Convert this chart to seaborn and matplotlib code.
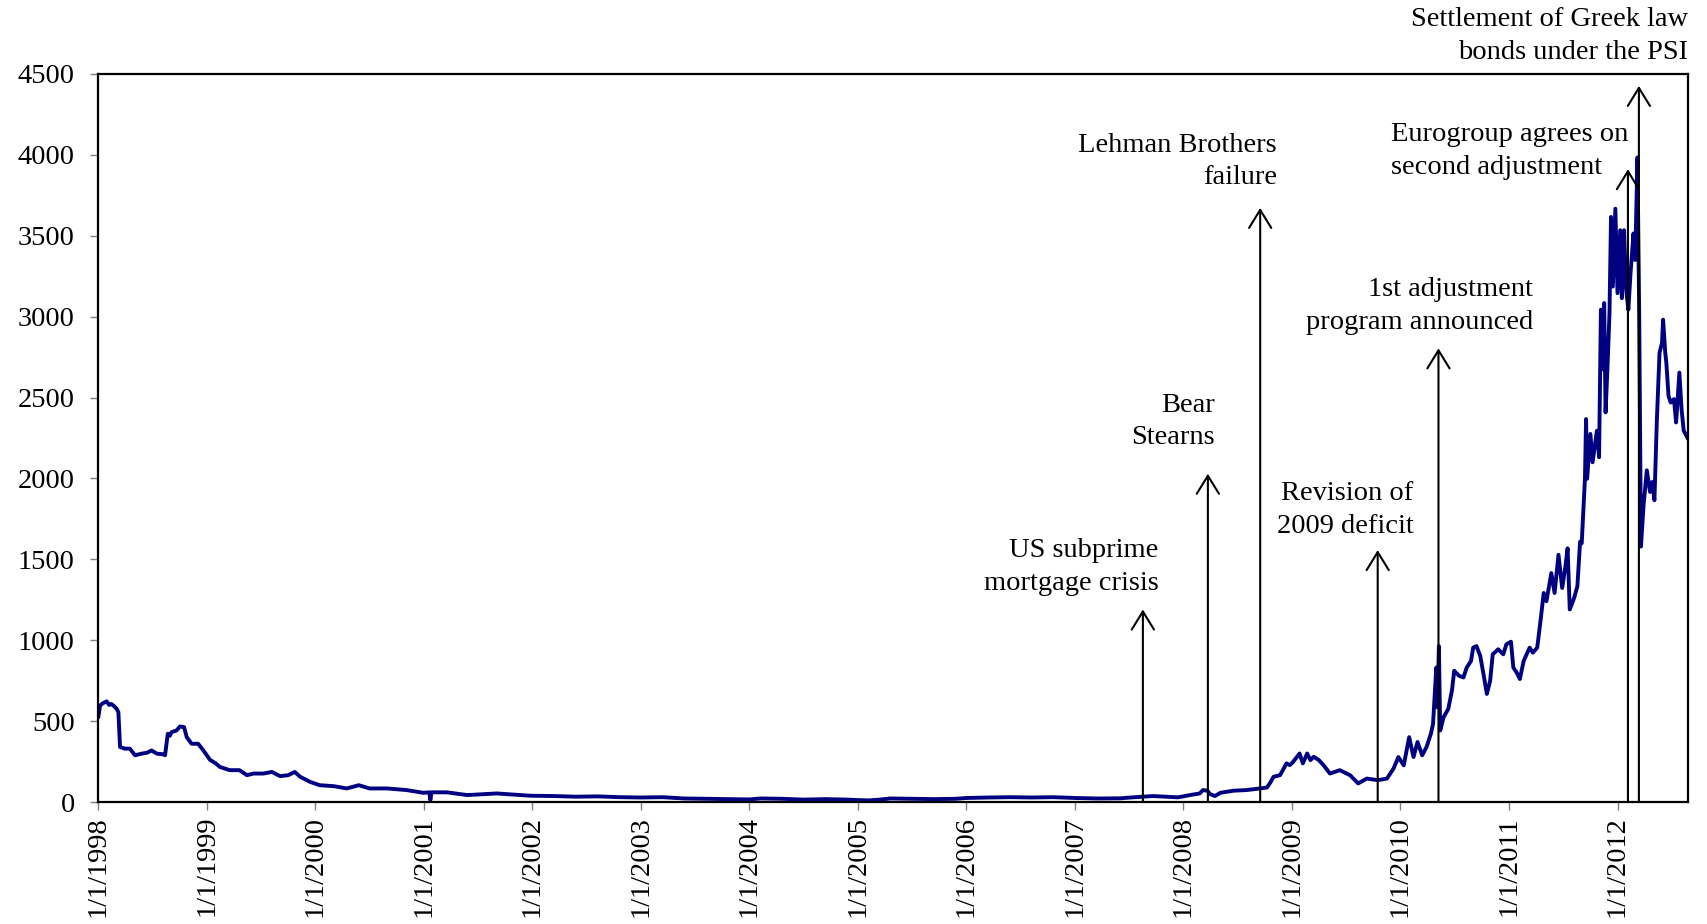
import numpy as np
import pandas as pd
import seaborn as sns
import matplotlib.pyplot as plt

sns.set_theme(style="ticks")
plt.rcParams["font.family"] = ["Liberation Serif", "DejaVu Serif"]

# spread series (x = decimal year, y = basis points)
year_pos = [
    1998.00, 1998.016, 1998.04, 1998.077, 1998.10, 1998.12, 1998.15, 1998.17, 1998.185,
    1998.20, 1998.246, 1998.29, 1998.338, 1998.40, 1998.45, 1998.49, 1998.54, 1998.60,
    1998.615, 1998.64, 1998.66, 1998.675, 1998.72, 1998.753, 1998.79, 1998.815, 1998.86,
    1998.92, 1998.968, 1999.03, 1999.08, 1999.12, 1999.21, 1999.30, 1999.37, 1999.43,
    1999.52, 1999.60, 1999.675, 1999.75, 1999.81, 1999.86, 1999.95, 2000.04, 2000.17,
    2000.29, 2000.40, 2000.50, 2000.66, 2000.84, 2000.995, 2001.05, 2001.06, 2001.07,
    2001.21, 2001.40, 2001.67, 2001.98, 2002.20, 2002.40, 2002.60, 2002.80, 2003.00,
    2003.20, 2003.40, 2003.60, 2003.80, 2004.00, 2004.10, 2004.30, 2004.50, 2004.70,
    2004.90, 2005.00, 2005.10, 2005.20, 2005.30, 2005.50, 2005.70, 2005.90, 2006.00,
    2006.20, 2006.40, 2006.60, 2006.80, 2007.00, 2007.20, 2007.42, 2007.51, 2007.63,
    2007.72, 2007.84, 2007.95, 2008.06, 2008.15, 2008.18, 2008.22, 2008.245, 2008.29,
    2008.34, 2008.46, 2008.58, 2008.707, 2008.77, 2008.80, 2008.83, 2008.89, 2008.95,
    2008.98, 2009.01, 2009.07, 2009.10, 2009.14, 2009.17, 2009.20, 2009.25, 2009.30,
    2009.35, 2009.44, 2009.535, 2009.61, 2009.69, 2009.79, 2009.875, 2009.936, 2009.98,
    2010.03, 2010.08, 2010.12, 2010.157, 2010.20, 2010.24, 2010.28, 2010.30, 2010.33,
    2010.34, 2010.354, 2010.366, 2010.397, 2010.44, 2010.474, 2010.495, 2010.54, 2010.58,
    2010.61, 2010.65, 2010.67, 2010.70, 2010.735, 2010.765, 2010.796, 2010.826, 2010.85,
    2010.90, 2010.947, 2010.976, 2011.018, 2011.04, 2011.07, 2011.10, 2011.135, 2011.19,
    2011.22, 2011.26, 2011.29, 2011.32, 2011.345, 2011.39, 2011.42, 2011.456, 2011.49,
    2011.52, 2011.54, 2011.56, 2011.60, 2011.63, 2011.655, 2011.67, 2011.70, 2011.71,
    2011.72, 2011.75, 2011.77, 2011.81, 2011.83, 2011.847, 2011.865, 2011.877, 2011.89,
    2011.908, 2011.926, 2011.94, 2011.957, 2011.98, 2012.00, 2012.025, 2012.04, 2012.06,
    2012.08, 2012.10, 2012.12, 2012.147, 2012.163, 2012.184, 2012.20, 2012.216, 2012.24,
    2012.27, 2012.30, 2012.32, 2012.34, 2012.363, 2012.387, 2012.41, 2012.42, 2012.44,
    2012.45, 2012.47, 2012.49, 2012.52, 2012.54, 2012.57, 2012.59, 2012.61, 2012.65,
]
spread = [
    524, 596, 610, 622, 600, 606, 590, 575, 555,
    340, 330, 330, 289, 299, 305, 319, 299, 295,
    289, 422, 410, 432, 442, 467, 463, 401, 360,
    360, 319, 260, 240, 217, 197, 197, 166, 176,
    176, 186, 160, 166, 186, 156, 125, 104, 98,
    84, 104, 84, 84, 74, 57, 60, 12, 60,
    60, 43, 53, 39, 37, 33, 35, 30, 28,
    30, 22, 20, 18, 16, 22, 20, 15, 18,
    15, 12, 10, 15, 22, 20, 18, 20, 25,
    28, 30, 28, 30, 25, 22, 23, 28, 33,
    37, 33, 29, 43, 53, 74, 70, 49, 37,
    57, 70, 74, 84, 90, 120, 156, 166, 239,
    228, 248, 300, 239, 300, 259, 280, 258, 220,
    176, 197, 166, 115, 145, 135, 145, 207, 278,
    227, 401, 278, 371, 289, 340, 422, 483, 831,
    585, 964, 442, 524, 575, 688, 811, 780, 770,
    831, 872, 954, 964, 903, 790, 668, 749, 913,
    944, 913, 975, 991, 831, 801, 760, 872, 954,
    923, 954, 1118, 1292, 1241, 1415, 1292, 1528, 1323,
    1456, 1568, 1190, 1261, 1333, 1609, 1599, 2000, 2367,
    1998, 2275, 2100, 2295, 2131, 3043, 2674, 3084, 2408,
    2695, 3022, 3616, 3186, 3667, 3145, 3534, 3114, 3534,
    3165, 3043, 3268, 3514, 3350, 3984, 3000, 1579, 1835,
    2050, 1916, 1978, 1865, 2367, 2776, 2838, 2981, 2776,
    2715, 2510, 2469, 2490, 2346, 2654, 2428, 2295, 2244,
]

years = list(range(1998, 2013))
y_ticks = list(range(0, 4501, 500))

# events: label, date (decimal year), arrow tip height
event_labels = [
    "US subprime\nmortgage crisis",
    "Bear\nStearns",
    "Lehman Brothers\nfailure",
    "Revision of\n2009 deficit",
    "1st adjustment\nprogram announced",
    "Eurogroup agrees on\nsecond adjustment",
    "Settlement of Greek law\nbonds under the PSI",
]
event_dates = [2007.626, 2008.225, 2008.707, 2009.79, 2010.35, 2012.096, 2012.197]
event_tips = [1190, 2029, 3672, 1557, 2804, 3911, 4426]

# label layout (x, y, horizontal alignment)
label_pos = [
    (2007.77, 1454, "right"),
    (2008.29, 2353, "right"),
    (2008.86, 3959, "right"),
    (2010.12, 1806, "right"),
    (2011.22, 3064, "right"),
    (2009.91, 4023, "left"),
    (2012.65, 4734, "right"),
]

fig = plt.figure(figsize=(17.07, 9.24), dpi=100)
ax = fig.add_axes([0.0576, 0.132, 0.9313, 0.788])

sns.lineplot(x=year_pos, y=spread, color="#000080", linewidth=2.8, ax=ax)

for d, tip in zip(event_dates, event_tips):
    ax.annotate("", xy=(d, tip), xytext=(d, 0),
                arrowprops=dict(arrowstyle="->,head_length=0.65,head_width=0.4",
                                mutation_scale=20, color="black", lw=1.5,
                                shrinkA=0, shrinkB=0),
                annotation_clip=False)

for lab, (tx, ty, ha) in zip(event_labels, label_pos):
    ax.text(tx, ty, lab, ha=ha, va="center", multialignment=ha,
            fontsize=20.5, color="black", linespacing=1.4, clip_on=False)

ax.set_xlim(1998.0, 2012.65)
ax.set_ylim(0, 4500)
ax.set_xticks(years)
ax.set_xticklabels([f"1/1/{y}" for y in years], rotation=90, va="top", ha="center")
ax.set_yticks(y_ticks)
ax.set_yticklabels([str(v) for v in y_ticks])
ax.tick_params(axis="both", labelsize=20.5, colors="#808080", labelcolor="black",
               length=6, width=1.0, direction="out")
ax.tick_params(axis="y", pad=11)
ax.tick_params(axis="x", pad=4)
ax.set_xlabel("")
ax.set_ylabel("")
for s in ax.spines.values():
    s.set_visible(True)
    s.set_color("black")
    s.set_linewidth(1.6)

fig.savefig("out.png", dpi=100)
